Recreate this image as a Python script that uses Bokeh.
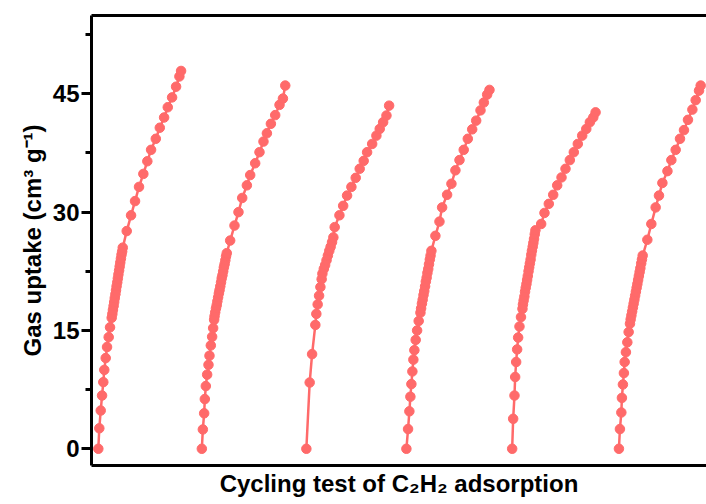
from bokeh.plotting import figure
from bokeh.models import Range1d, SingleIntervalTicker, LinearAxis, FixedTicker
from bokeh.embed import file_html
from bokeh.resources import INLINE

# pressure-like position inside each cycle (0..1) and gas uptake (cm3 g-1)
cycle_offsets = [0.0, 1.246, 2.504, 3.708, 4.981, 6.266]

c1_p = [0, .012, .029, .045, .060, .072, .089, .105, .125, .141, .161,
        .169, .176, .184, .191, .198, .206, .213, .220, .228, .235, .242, .250, .257, .264, .272, .279, .287, .294,
        .342, .394, .442, .490, .542, .590, .635, .692, .740, .792, .836, .888, .936, .976, .996]
c1_q = [0, 2.6, 4.85, 6.75, 8.45, 10.0, 11.5, 12.9, 14.15, 15.4, 16.6,
        17.1, 17.6, 18.1, 18.6, 19.1, 19.6, 20.1, 20.6, 21.1, 21.6, 22.1, 22.6, 23.1, 23.6, 24.1, 24.6, 25.0, 25.5,
        27.6, 29.6, 31.4, 33.2, 34.85, 36.45, 37.9, 39.3, 40.7, 42.0, 43.3, 44.55, 45.9, 47.2, 47.9]

c2_p = [0, .012, .028, .036, .048, .064, .080, .092, .108, .124, .136, .148,
        .153, .161, .170, .179, .187, .196, .205, .213, .222, .231, .239, .248, .257, .265, .274, .283, .291, .300,
        .341, .393, .441, .486, .542, .582, .642, .694, .742, .783, .831, .883, .935, .976, 1.004]
c2_q = [0, 2.45, 4.5, 6.3, 7.95, 9.4, 10.65, 11.8, 13.1, 14.2, 15.3, 16.35,
        16.8, 17.3, 17.8, 18.2, 18.7, 19.2, 19.7, 20.1, 20.6, 21.1, 21.6, 22.0, 22.5, 23.0, 23.4, 23.9, 24.4, 24.8,
        26.4, 28.3, 30.0, 31.8, 33.4, 34.7, 36.2, 37.6, 38.95, 40.0, 41.2, 42.3, 43.6, 44.4, 46.05]

c3_p = [0, .040, .069, .108, .120, .136, .153, .169, .184,
        .193, .210, .226, .243, .259, .276, .292, .309, .325,
        .341, .398, .443, .490, .542, .594, .642, .690, .731, .792, .843, .883, .924, .964, .996]
c3_q = [0, 8.4, 12.0, 15.7, 17.1, 18.3, 19.4, 20.5, 21.5,
        22.2, 22.8, 23.3, 23.9, 24.5, 25.1, 25.6, 26.2, 26.8,
        28.1, 29.6, 30.8, 32.1, 33.2, 34.35, 35.5, 36.5, 37.6, 38.65, 39.7, 40.55, 41.4, 42.25, 43.5]

c4_p = [0, .020, .036, .048, .060, .072, .084, .096, .112, .129, .148, .169,
        .177, .187, .196, .206, .215, .225, .234, .244, .253, .263, .272, .282, .291, .301,
        .349, .398, .430, .490, .542, .590, .639, .690, .739, .792, .840, .892, .932, .972, 1.0]
c4_q = [0, 2.5, 4.75, 6.6, 8.2, 9.8, 11.3, 12.5, 13.8, 15.0, 16.2, 17.25,
        17.8, 18.4, 18.9, 19.5, 20.0, 20.6, 21.2, 21.7, 22.3, 22.8, 23.4, 24.0, 24.5, 25.1,
        27.0, 28.8, 30.6, 32.2, 33.6, 35.3, 36.6, 37.9, 39.3, 40.5, 41.6, 42.9, 43.9, 44.9, 45.5]

c5_p = [0, .012, .028, .036, .048, .060, .072, .088, .106, .124,
        .130, .138, .147, .155, .163, .172, .180, .188, .197, .205, .213, .222, .230, .238, .247, .255, .263, .272, .280,
        .349, .389, .441, .494, .542, .594, .642, .694, .742, .790, .843, .892, .935, .976, 1.004]
c5_q = [0, 3.8, 6.75, 9.1, 11.0, 12.6, 14.1, 15.5, 16.7, 17.75,
        18.3, 18.8, 19.3, 19.9, 20.4, 20.9, 21.4, 21.9, 22.5, 23.0, 23.5, 24.0, 24.6, 25.1, 25.6, 26.1, 26.6, 27.2, 27.7,
        28.5, 29.9, 31.05, 32.2, 33.4, 34.4, 35.5, 36.6, 37.6, 38.65, 39.7, 40.55, 41.4, 42.0, 42.65]

c6_p = [0, .012, .029, .036, .048, .060, .069, .084, .101, .117, .133,
        .141, .150, .159, .168, .177, .186, .195, .204, .213, .222, .231, .240, .249, .258, .268, .277, .286,
        .342, .390, .442, .482, .523, .584, .631, .683, .735, .783, .831, .884, .924, .964, .984]
c6_q = [0, 2.5, 4.6, 6.45, 8.15, 9.6, 11.0, 12.25, 13.5, 14.8, 15.85,
        16.4, 16.9, 17.4, 17.9, 18.4, 18.9, 19.4, 19.9, 20.4, 20.9, 21.4, 21.9, 22.4, 22.9, 23.5, 24.0, 24.5,
        26.5, 28.5, 30.6, 32.1, 33.7, 35.2, 36.6, 37.9, 39.3, 40.4, 41.7, 43.0, 44.2, 45.4, 46.05]

cycles_p = [c1_p, c2_p, c3_p, c4_p, c5_p, c6_p]
cycles_q = [c1_q, c2_q, c3_q, c4_q, c5_q, c6_q]

COLOR = "#FF6A6A"
FONT = "Liberation Sans"

p = figure(width=706, height=504, output_backend="svg", toolbar_location=None,
           x_range=Range1d(-0.082, 7.32), y_range=Range1d(-2.12, 54.93),
           min_border_left=91, min_border_right=0, min_border_top=15, min_border_bottom=39)
p.outline_line_color = None
p.grid.visible = False
p.background_fill_color = "white"
p.border_fill_color = "white"

for off, ps, qs in zip(cycle_offsets, cycles_p, cycles_q):
    xs = [off + v for v in ps]
    p.line(xs, qs, line_color=COLOR, line_width=2.5)
    p.scatter(xs, qs, size=9.5, fill_color=COLOR, line_color=COLOR)

# y axis
ya = p.yaxis[0]
ya.ticker = SingleIntervalTicker(interval=15, num_minor_ticks=2)
ya.axis_line_width = 3
ya.axis_line_color = "black"
ya.major_tick_line_width = 3
ya.minor_tick_line_width = 3
ya.major_tick_line_color = "black"
ya.minor_tick_line_color = "black"
ya.major_tick_out = 10
ya.major_tick_in = 0
ya.minor_tick_out = 6
ya.minor_tick_in = 0
ya.major_label_text_font = FONT
ya.major_label_text_font_style = "bold"
ya.major_label_text_font_size = "24px"
ya.major_label_text_color = "black"
ya.major_label_standoff = 2
ya.axis_label = "Gas uptake (cm\u00b3 g\u207b\u00b9)"
ya.axis_label_text_font = FONT
ya.axis_label_text_font_style = "bold"
ya.axis_label_text_font_size = "24px"
ya.axis_label_text_color = "black"
ya.axis_label_standoff = 4

# x axis
xa = p.xaxis[0]
xa.ticker = FixedTicker(ticks=[])
xa.axis_line_width = 3
xa.axis_line_color = "black"
xa.major_tick_out = 0
xa.minor_tick_out = 0
xa.major_label_text_font_size = "0px"
xa.axis_label = "Cycling test of C\u2082H\u2082 adsorption"
xa.axis_label_text_font = FONT
xa.axis_label_text_font_style = "bold"
xa.axis_label_text_font_size = "24px"
xa.axis_label_text_color = "black"
xa.axis_label_standoff = 4

# top frame line
top = LinearAxis(ticker=FixedTicker(ticks=[]), axis_line_width=3, axis_line_color="black",
                 major_tick_out=0, minor_tick_out=0, major_label_text_font_size="0px")
p.add_layout(top, "above")

open("out.html", "w").write(file_html(p, INLINE))
